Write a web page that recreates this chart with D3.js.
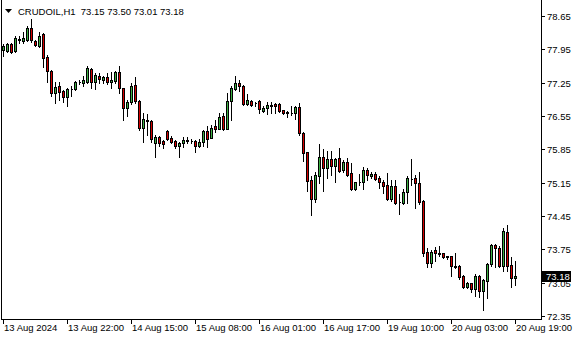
<!DOCTYPE html>
<html>
<head>
  <meta charset="utf-8">
  <script src="https://d3js.org/d3.v7.min.js"></script>
  <style type="text/css">
    body { margin: 0; background: #fff; }
    svg { display: block; }
    .lbl { font-family: "Liberation Sans", Arial, sans-serif; font-size: 9.5px; fill: #000; }
  </style>
</head>
<body>
<script type="text/javascript">
// hourly candles, CRUDOIL H1, 13 Aug -> 20 Aug 19:00
var open = [77.94,77.92,78.06,77.92,78.14,78.13,78.14,78.39,78.12,78.03,
  78.27,77.79,77.50,77.04,77.18,77.08,76.95,77.11,77.12,77.26,
  77.24,77.27,77.53,77.26,77.39,77.31,77.36,77.26,77.29,77.47,
  77.13,76.72,76.84,77.20,76.87,76.29,76.45,76.45,75.99,76.10,
  76.03,76.24,76.09,76.03,75.91,75.98,76.03,76.03,76.03,75.93,
  76.00,76.24,76.09,76.33,76.28,76.55,76.28,76.86,77.12,77.24,
  77.18,76.80,76.87,76.82,76.87,76.66,76.71,76.77,76.80,76.80,
  76.67,76.63,76.61,76.61,76.73,76.20,75.79,75.21,74.80,75.30,
  75.68,75.45,75.64,75.50,75.66,75.42,75.58,75.35,75.01,75.16,
  75.16,75.42,75.28,75.33,75.25,75.16,75.10,74.80,75.08,74.74,
  74.73,74.95,75.22,75.24,75.14,74.77,73.69,73.47,73.74,73.67,
  73.68,73.60,73.60,73.40,73.40,73.19,72.96,73.04,72.91,73.19,
  72.88,73.09,73.44,73.84,73.78,73.40,74.12,73.42,73.15];
var high = [78.06,78.08,78.08,78.22,78.24,78.32,78.44,78.58,78.15,78.32,
  78.29,77.83,77.52,77.27,77.27,77.10,77.13,77.17,77.29,77.31,
  77.38,77.59,77.55,77.45,77.45,77.39,77.46,77.48,77.50,77.59,
  77.14,76.89,77.24,77.36,76.89,76.61,76.59,76.47,76.15,76.12,
  76.05,76.25,76.12,76.05,76.01,76.10,76.10,76.07,76.05,76.06,
  76.26,76.33,76.36,76.47,76.61,76.61,77.03,77.17,77.38,77.31,
  77.20,77.01,76.89,76.85,76.89,76.75,76.85,76.85,76.82,76.82,
  76.68,76.66,76.75,76.76,76.82,76.21,75.80,75.28,75.38,75.96,
  75.85,75.81,75.82,75.67,75.87,75.63,75.66,75.56,75.16,75.33,
  75.47,75.45,75.38,75.38,75.28,75.21,75.35,75.21,75.21,74.91,
  75.01,75.28,75.65,75.31,75.37,74.79,73.77,73.74,73.79,73.82,
  73.68,73.62,73.61,73.67,73.42,73.21,73.07,73.05,73.23,73.21,
  73.12,73.47,73.86,73.86,73.81,74.19,74.26,73.58,73.50];
var low = [77.80,77.90,77.88,77.89,78.08,78.08,78.12,78.11,78.02,78.00,
  77.58,77.26,76.97,76.82,76.89,76.85,76.76,76.96,77.10,77.22,
  77.17,77.25,77.13,77.11,77.25,77.25,77.22,77.13,77.25,77.03,
  76.47,76.55,76.81,76.82,76.26,76.01,76.15,76.01,75.69,75.92,
  75.88,76.05,75.99,75.88,75.68,75.89,75.98,75.98,75.80,75.89,
  75.92,75.89,76.08,76.22,76.27,76.26,76.27,76.47,77.10,77.08,
  76.78,76.78,76.75,76.76,76.62,76.64,76.59,76.62,76.62,76.64,
  76.59,76.52,76.57,76.48,76.15,75.61,74.98,74.48,74.75,75.14,
  74.98,75.24,75.31,75.17,75.38,75.38,75.29,74.99,74.99,75.10,
  75.01,75.21,75.24,75.21,75.04,74.93,74.79,74.77,74.70,74.49,
  74.70,74.73,75.10,74.61,74.70,73.60,73.38,73.37,73.51,73.61,
  73.56,73.55,73.19,73.36,73.12,72.93,72.94,72.86,72.76,72.74,
  72.48,72.72,73.40,73.38,73.38,73.30,73.30,72.95,73.01];
var close = [78.02,78.06,77.90,78.18,78.17,78.18,78.39,78.14,78.05,78.24,
  77.76,77.49,77.04,77.15,77.06,76.95,77.11,77.12,77.26,77.27,
  77.31,77.55,77.27,77.41,77.32,77.36,77.27,77.31,77.47,77.13,
  76.72,76.84,77.18,76.86,76.29,76.48,76.46,76.06,76.10,75.99,
  75.96,76.07,76.01,75.91,75.98,76.05,76.04,76.02,75.92,76.00,
  76.24,76.07,76.30,76.27,76.53,76.28,76.86,77.14,77.24,77.17,
  76.80,76.89,76.79,76.82,76.69,76.72,76.78,76.78,76.77,76.66,
  76.61,76.62,76.61,76.73,76.20,75.78,75.19,74.81,75.31,75.68,
  75.45,75.64,75.49,75.64,75.40,75.59,75.31,75.01,75.16,75.16,
  75.42,75.31,75.33,75.22,75.16,75.09,74.80,75.08,74.73,74.74,
  74.95,75.24,75.22,75.14,74.75,73.68,73.47,73.70,73.67,73.66,
  73.58,73.59,73.40,73.37,73.17,72.96,73.05,72.91,73.19,72.88,
  73.11,73.44,73.84,73.77,73.40,74.14,73.40,73.14,73.18];

var timeTicks = [0,16,32,48,64,80,96,112,128];
var timeLabels = ["13 Aug 2024","13 Aug 22:00","14 Aug 15:00","15 Aug 08:00","16 Aug 01:00",
  "16 Aug 17:00","19 Aug 10:00","20 Aug 03:00","20 Aug 19:00"];
var priceTicks = [78.65,77.95,77.25,76.55,75.85,75.15,74.45,73.75,73.05,72.35];
var symbol = "CRUDOIL,H1";
var lastPrice = 73.18;

var width = 580, height = 340,
    plotRight = 541, plotBottom = 319;

var svg = d3.select('body').append('svg')
    .attr('width', width)
    .attr('height', height)
    .attr('shape-rendering', 'crispEdges');

var x = d3.scaleLinear().domain([0, 128]).range([3, 515]);
var y = d3.scaleLinear().domain([72.35, 78.65]).range([316, 16]);

var candles = d3.range(open.length).map(function(i) {
  return {i: i, o: open[i], h: high[i], l: low[i], c: close[i]};
});

// frame
svg.append('line').attr('x1', 1.5).attr('x2', 1.5).attr('y1', 0).attr('y2', plotBottom + 0.5)
  .attr('stroke', '#000');
svg.append('line').attr('x1', 1).attr('x2', plotRight + 1).attr('y1', plotBottom + 0.5).attr('y2', plotBottom + 0.5)
  .attr('stroke', '#000');
svg.append('line').attr('x1', plotRight + 0.5).attr('x2', plotRight + 0.5).attr('y1', 0).attr('y2', plotBottom + 1)
  .attr('stroke', '#000');

// candles
var g = svg.append('g');
var c = g.selectAll('g.candle').data(candles).enter().append('g').attr('class', 'candle');

c.append('line')
  .attr('x1', function(d) { return Math.round(x(d.i)) + 0.5; })
  .attr('x2', function(d) { return Math.round(x(d.i)) + 0.5; })
  .attr('y1', function(d) { return Math.round(y(d.h)); })
  .attr('y2', function(d) { return Math.round(y(d.l)) + 1; })
  .attr('stroke', '#000');

c.append('path')
  .attr('d', function(d) {
    var cx = Math.round(x(d.i));
    var t = Math.round(y(Math.max(d.o, d.c))) + 0.5;
    var b = Math.round(y(Math.min(d.o, d.c))) + 0.5;
    return 'M' + (cx - 0.5) + ',' + t + 'H' + (cx + 1.5) + 'V' + b + 'H' + (cx - 0.5) + 'Z';
  })
  .attr('fill', function(d) { return d.c > d.o ? '#3cb043' : (d.c < d.o ? '#d40000' : '#000'); })
  .attr('stroke', '#000');

// price axis
svg.selectAll('line.ptick').data(priceTicks).enter().append('line')
  .attr('class', 'ptick')
  .attr('x1', plotRight).attr('x2', plotRight + 4)
  .attr('y1', function(d) { return Math.round(y(d)) + 0.5; })
  .attr('y2', function(d) { return Math.round(y(d)) + 0.5; })
  .attr('stroke', '#000');

svg.selectAll('text.plbl').data(priceTicks).enter().append('text')
  .attr('class', 'lbl plbl')
  .attr('x', plotRight + 6)
  .attr('y', function(d) { return Math.round(y(d)) + 4; })
  .text(function(d) { return d.toFixed(2); });

// last price box
svg.append('rect')
  .attr('x', plotRight).attr('y', Math.round(y(lastPrice)) - 5)
  .attr('width', 30).attr('height', 11)
  .attr('fill', '#000');
svg.append('text')
  .attr('class', 'lbl')
  .attr('x', plotRight + 5)
  .attr('y', Math.round(y(lastPrice)) + 4)
  .style('fill', '#fff')
  .text(lastPrice.toFixed(2));

// time axis
svg.selectAll('line.ttick').data(timeTicks).enter().append('line')
  .attr('class', 'ttick')
  .attr('x1', function(d) { return Math.round(x(d)) + 0.5; })
  .attr('x2', function(d) { return Math.round(x(d)) + 0.5; })
  .attr('y1', plotBottom).attr('y2', plotBottom + 5)
  .attr('stroke', '#000');

svg.selectAll('text.tlbl').data(timeTicks).enter().append('text')
  .attr('class', 'lbl tlbl')
  .attr('x', function(d) { return Math.round(x(d)) + 1; })
  .attr('y', plotBottom + 12)
  .text(function(d, k) { return timeLabels[k]; });

// title
svg.append('path').attr('d', 'M5,9H12L8.5,13Z').attr('fill', '#000').attr('shape-rendering', 'auto');
svg.append('text').attr('class', 'lbl').attr('x', 18).attr('y', 15)
  .text(symbol + '  ' + [open[128], high[128], low[128], close[128]].map(function(v) { return v.toFixed(2); }).join(' '))
  .attr('xml:space', 'preserve').style('white-space', 'pre');
</script>
</body>
</html>
